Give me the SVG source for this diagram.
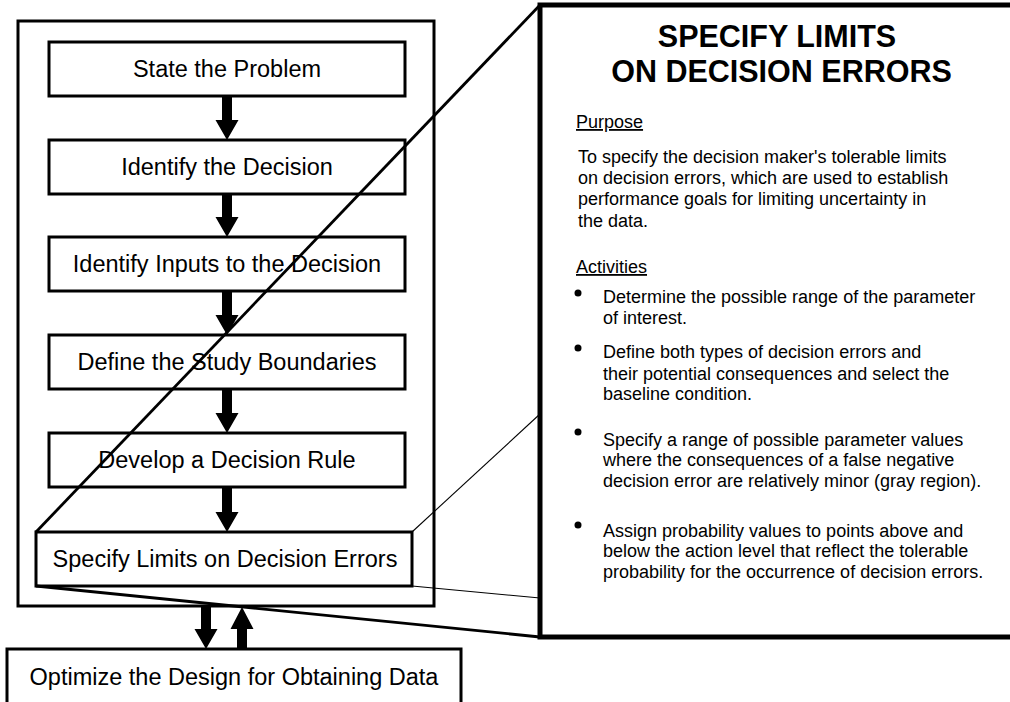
<svg xmlns="http://www.w3.org/2000/svg" width="1010" height="702" viewBox="0 0 1010 702">
  <style>
    .box { fill: #fff; stroke: #000; stroke-width: 3; }
    .frame { fill: none; stroke: #000; stroke-width: 3; }
    .panel { fill: #fff; stroke: #000; stroke-width: 5; }
    .lbl { font-family: "Liberation Sans", Arial, sans-serif; font-size: 23.5px; fill: #000; text-anchor: middle; }
    .title { font-family: "Liberation Sans", Arial, sans-serif; font-size: 30.5px; font-weight: bold; fill: #000; text-anchor: middle; }
    .head { font-family: "Liberation Sans", Arial, sans-serif; font-size: 18px; fill: #000; text-decoration: underline; }
    .body { font-family: "Liberation Sans", Arial, sans-serif; font-size: 18px; fill: #000; }
    .arrow { fill: #000; }
    .thick { stroke: #000; stroke-width: 2.8; fill: none; }
    .thin { stroke: #000; stroke-width: 1.1; fill: none; }
  </style>

  <rect width="1010" height="702" fill="#fff"/>

  <!-- detail panel -->
  <g id="detail-panel">
    <rect class="panel" x="540" y="5" width="500" height="632"/>
    <text class="title" x="777" y="47">SPECIFY LIMITS</text>
    <text class="title" x="781.5" y="82">ON DECISION ERRORS</text>
    <text class="head" x="576" y="128">Purpose</text>
    <text class="body" x="578" y="163">To specify the decision maker's tolerable limits</text>
    <text class="body" x="578" y="184">on decision errors, which are used to establish</text>
    <text class="body" x="578" y="205">performance goals for limiting uncertainty in</text>
    <text class="body" x="578" y="227">the data.</text>
    <text class="head" x="576" y="273">Activities</text>
    <circle cx="578" cy="293" r="3.5"/>
    <text class="body" x="603" y="303">Determine the possible range of the parameter</text>
    <text class="body" x="603" y="324">of interest.</text>
    <circle cx="578" cy="348" r="3.5"/>
    <text class="body" x="603" y="358">Define both types of decision errors and</text>
    <text class="body" x="603" y="380">their potential consequences and select the</text>
    <text class="body" x="603" y="400">baseline condition.</text>
    <circle cx="578" cy="432" r="3.5"/>
    <text class="body" x="603" y="446">Specify a range of possible parameter values</text>
    <text class="body" x="603" y="466">where the consequences of a false negative</text>
    <text class="body" x="603" y="487">decision error are relatively minor (gray region).</text>
    <circle cx="578" cy="525" r="3.5"/>
    <text class="body" x="603" y="537">Assign probability values to points above and</text>
    <text class="body" x="603" y="557">below the action level that reflect the tolerable</text>
    <text class="body" x="603" y="578">probability for the occurrence of decision errors.</text>
  </g>

  <!-- process frame -->
  <g id="process-frame">
    <rect class="frame" x="18" y="21" width="416" height="585"/>
  </g>

  <g id="state-problem">
    <rect class="box" x="49" y="42" width="356" height="54"/>
    <text class="lbl" x="227" y="77">State the Problem</text>
  </g>
  <g id="identify-decision">
    <rect class="box" x="49" y="140" width="356" height="54"/>
    <text class="lbl" x="227" y="175">Identify the Decision</text>
  </g>
  <g id="identify-inputs">
    <rect class="box" x="49" y="237" width="356" height="54"/>
    <text class="lbl" x="227" y="272">Identify Inputs to the Decision</text>
  </g>
  <g id="study-boundaries">
    <rect class="box" x="49" y="335" width="356" height="54"/>
    <text class="lbl" x="227" y="370">Define the Study Boundaries</text>
  </g>
  <g id="decision-rule">
    <rect class="box" x="49" y="433" width="356" height="54"/>
    <text class="lbl" x="227" y="468">Develop a Decision Rule</text>
  </g>
  <g id="limits-errors">
    <rect class="box" x="36" y="532" width="376" height="54"/>
    <text class="lbl" x="225" y="567">Specify Limits on Decision Errors</text>
  </g>
  <g id="optimize-design">
    <rect class="box" x="7" y="649" width="454" height="70"/>
    <text class="lbl" x="234" y="685">Optimize the Design for Obtaining Data</text>
  </g>

  <!-- connectors -->
  <g id="connectors">
    <path class="arrow" d="M222 96H232V120H238.5L227 140L215.5 120H222Z"/>
    <path class="arrow" d="M222 194H232V217H238.5L227 237L215.5 217H222Z"/>
    <path class="arrow" d="M222 291H232V315H238.5L227 335L215.5 315H222Z"/>
    <path class="arrow" d="M222 389H232V413H238.5L227 433L215.5 413H222Z"/>
    <path class="arrow" d="M222 487H232V512H238.5L227 532L215.5 512H222Z"/>
    <path class="arrow" d="M201 606H211V629H217.5L206 649L194.5 629H201Z"/>
    <path class="arrow" d="M237 649H247V629H253.5L242 607L230.5 629H237Z"/>

    <!-- zoom lines to the detail panel -->
    <line class="thick" x1="36" y1="532" x2="540" y2="5"/>
    <line class="thick" x1="36" y1="586" x2="540" y2="637"/>
    <line class="thin" x1="412" y1="532" x2="540" y2="414"/>
    <line class="thin" x1="412" y1="586" x2="540" y2="598"/>
  </g>
</svg>
